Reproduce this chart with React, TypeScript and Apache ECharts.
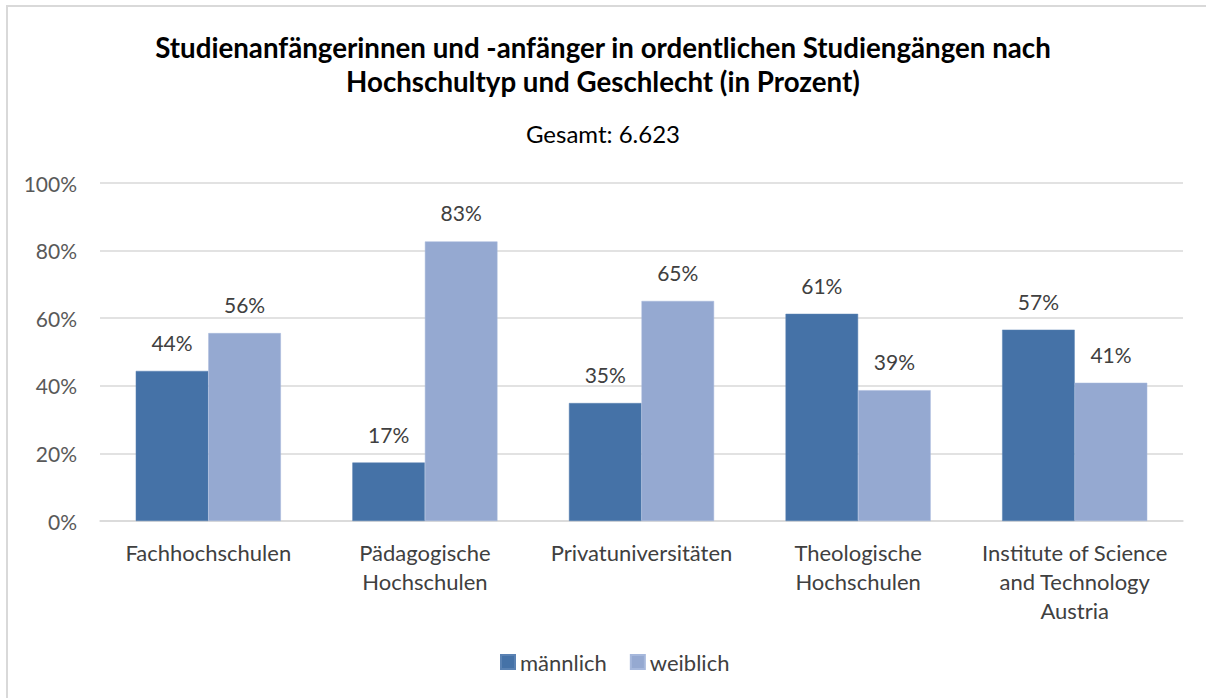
import React, { useEffect, useRef } from "react";
import * as echarts from "echarts";

const categories = [
  "Fachhochschulen",
  "Pädagogische\nHochschulen",
  "Privatuniversitäten",
  "Theologische\nHochschulen",
  "Institute of Science\nand Technology\nAustria",
];
const maennlich = [44.4, 17.3, 34.9, 61.3, 56.6];
const weiblich = [55.6, 82.7, 65.1, 38.7, 40.9];
const yTicks = [0, 20, 40, 60, 80, 100];

const FONT = "Lato, 'Open Sans', sans-serif";

export default function App() {
  const ref = useRef<HTMLDivElement>(null);
  useEffect(() => {
    if (!ref.current) return;
    const chart = echarts.init(ref.current, null, { renderer: "svg" });
    const labelCfg = {
      show: true,
      position: "top",
      distance: 18,
      fontFamily: FONT,
      fontSize: 21,
      color: "#404040",
      formatter: (p: any) => Math.round(p.value) + "%",
    };
    chart.setOption({
      animation: false,
      backgroundColor: "#ffffff",
      textStyle: { fontFamily: FONT },
      title: [
        {
          text: "Studienanfängerinnen und -anfänger in ordentlichen Studiengängen nach\nHochschultyp und Geschlecht (in Prozent)",
          left: "center",
          top: 25,
          textStyle: {
            fontFamily: FONT,
            fontSize: 27.7,
            fontWeight: "bold",
            color: "#000000",
            lineHeight: 34,
            align: "center",
          },
        },
        {
          text: "Gesamt: 6.623",
          left: "center",
          top: 116,
          textStyle: {
            fontFamily: FONT,
            fontSize: 24,
            fontWeight: "normal",
            color: "#000000",
            lineHeight: 24,
          },
        },
      ],
      graphic: [
        {
          type: "rect",
          shape: { x: 7, y: 6, width: 1250, height: 750 },
          style: { fill: "none", stroke: "#d9d9d9", lineWidth: 2 },
          silent: true,
        },
      ],
      legend: {
        bottom: 25,
        left: 500,
        itemWidth: 14,
        itemHeight: 14,
        itemGap: 23,
        icon: "rect",
        padding: 0,
        textStyle: { fontFamily: FONT, fontSize: 22, color: "#404040" },
        data: ["männlich", "weiblich"],
      },
      grid: { left: 100, right: 23, top: 183, bottom: 177 },
      xAxis: {
        type: "category",
        data: categories,
        axisLine: { lineStyle: { color: "#d9d9d9", width: 1.5 } },
        axisTick: { show: false },
        axisLabel: {
          fontFamily: FONT,
          fontSize: 22,
          color: "#404040",
          lineHeight: 29,
          margin: 17,
          interval: 0,
        },
      },
      yAxis: {
        type: "value",
        min: 0,
        max: 100,
        interval: 20,
        axisLine: { show: false },
        axisTick: { show: false },
        splitLine: { lineStyle: { color: "#d9d9d9", width: 1.5 } },
        axisLabel: {
          fontFamily: FONT,
          fontSize: 21,
          color: "#595959",
          margin: 23,
          formatter: (v: number) => (yTicks.includes(v) ? v + "%" : ""),
        },
      },
      series: [
        {
          name: "männlich",
          type: "bar",
          data: maennlich,
          barGap: "0%",
          barCategoryGap: "33%",
          itemStyle: { color: "#4572A7", borderColor: "#5a82b3", borderWidth: 0.5 },
          label: labelCfg,
        },
        {
          name: "weiblich",
          type: "bar",
          data: weiblich,
          itemStyle: { color: "#95A9D1", borderColor: "#a6b8dc", borderWidth: 0.5 },
          label: labelCfg,
        },
      ],
    });
    return () => chart.dispose();
  }, []);
  return (
    <div
      ref={ref}
      style={{ position: "absolute", left: 0, top: 0, width: 1206, height: 698 }}
    />
  );
}
